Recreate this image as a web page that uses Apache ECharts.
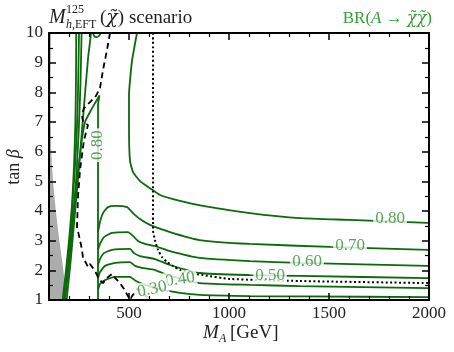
<!DOCTYPE html>
<html>
<head>
<meta charset="utf-8">
<script src="https://cdn.jsdelivr.net/npm/echarts@6/dist/echarts.min.js"></script>
<style>
  html, body { margin: 0; padding: 0; background: #fff; }
  #chart { width: 454px; height: 352px; }
</style>
</head>
<body>
<div id="chart"></div>
<script>
// axis ticks
const xMajor = [500, 1000, 1500, 2000]
const xMinor = [200, 300, 400, 600, 700, 800, 900, 1100, 1200, 1300, 1400, 1600, 1700, 1800, 1900]

// BR(A -> chi chi) contours, [M_A, tan beta]
const br80 = [[540, 10], [515, 9.06], [500, 7.91], [500, 6.8], [505, 5.69], [520, 5.31], [555, 5.01], [605, 4.77],
  [655, 4.54], [755, 4.34], [870, 4.17], [1105, 3.93], [1355, 3.76], [1605, 3.7], [1995, 3.6]]
const br70 = [[345, 3.29], [355, 3.63], [370, 3.93], [395, 4.13], [430, 4.17], [490, 4.13], [520, 3.93], [555, 3.73],
  [605, 3.53], [705, 3.29], [855, 3.02], [1105, 2.89], [1505, 2.79], [1995, 2.69]]
const br60 = [[345, 2.69], [355, 2.89], [375, 3.12], [415, 3.26], [495, 3.29], [520, 3.16], [545, 2.99], [580, 2.89],
  [630, 2.82], [705, 2.65], [855, 2.42], [1105, 2.31], [1355, 2.25], [1995, 2.15]]
const br50 = [[345, 2.18], [355, 2.38], [375, 2.58], [415, 2.69], [505, 2.72], [525, 2.58], [555, 2.48], [630, 2.38],
  [705, 2.18], [855, 1.91], [1105, 1.84], [1355, 1.81], [1995, 1.74]]
const br40 = [[345, 1.74], [355, 1.94], [380, 2.15], [430, 2.25], [505, 2.28], [530, 2.15], [565, 2.08], [630, 2.01],
  [705, 1.81], [855, 1.57], [1105, 1.51], [1355, 1.47], [1995, 1.4]]
const br30 = [[345, 1.34], [355, 1.54], [380, 1.67], [430, 1.78], [505, 1.78], [535, 1.64], [580, 1.51], [655, 1.37],
  [755, 1.24], [855, 1.17], [1105, 1.13], [1355, 1.12], [1995, 1.1]]
const br80Threshold = [[345, 1], [345, 7.55], [352, 7.9], [340, 7.75], [310, 7.4], [280, 7.0], [262, 6.3], [250, 5.6],
  [238, 5.0], [225, 4.2], [210, 3.3], [195, 2.3], [182, 1.4], [178, 1]]
const steepA = [[168, 1], [185, 2], [200, 3], [215, 4.2], [225, 5.5], [232, 7], [235, 8.5], [236, 10]]
const steepB = [[172, 1], [192, 2.2], [210, 3.5], [225, 5], [238, 6.5], [245, 8], [250, 10]]
const steepC = [[180, 1], [200, 2.2], [220, 3.6], [235, 5], [248, 6.6], [257, 8.2], [263, 10]]
const steepD = [[188, 1], [208, 2.3], [228, 3.8], [248, 5.3], [266, 6.8], [282, 8.1], [296, 9.2], [305, 9.7], [310, 10]]
const topArc = [[318, 10.05], [326, 9.9], [338, 9.86], [352, 9.92], [365, 10.05]]

// contour labels: [M_A, tan beta, text, rotation]
const contourLabels = [
  [1805, 3.76, '0.80', 0], [1605, 2.85, '0.70', 0], [1390, 2.28, '0.60', 0],
  [1205, 1.84, '0.50', 0], [755, 1.69, '0.40', 8], [615, 1.36, '0.30', 12], [345, 6.22, '0.80', 90]
]

// black dashed and dotted limits
const dashedLimit = [[405, 10], [390, 9.43], [370, 8.75], [355, 8.15], [335, 7.88], [305, 7.67], [275, 7.47], [265, 7.24],
  [270, 7.0], [295, 6.9], [275, 6.39], [255, 5.38], [245, 4.47], [240, 3.46], [255, 3.02], [265, 2.69], [270, 2.42],
  [285, 2.25], [295, 2.11], [305, 2.21], [320, 2.08], [335, 1.91], [350, 1.71], [370, 1.57], [390, 1.74], [415, 1.88],
  [435, 1.71], [455, 1.57], [475, 1.37], [495, 1.13], [505, 1.0], [515, 1.13], [530, 1.27], [545, 1.4], [570, 1.24],
  [595, 1.07], [615, 1.0]]
const dottedLimit = [[620, 10], [620, 4.37], [620, 3.36], [630, 3.02], [645, 2.69], [665, 2.45], [690, 2.28], [720, 2.15],
  [755, 2.01], [805, 1.91], [870, 1.84], [1005, 1.71], [1355, 1.64], [1995, 1.57]]

// grey excluded region along the left edge
const excludedEdge = [[100, 1], [160, 1], [180, 1.3], [177, 1.7], [170, 2.1], [152, 3], [134, 4], [120, 5], [111, 6],
  [109, 7], [108, 8.5], [110, 10], [100, 10]]

const green = '#0b6a0b'
const labelGreen = '#2f8f2f'
const serif = 'Liberation Serif'

const chart = echarts.init(document.getElementById('chart'))

const greenLine = (data) => ({
  type: 'line', data, showSymbol: false, symbol: 'none', smooth: 0.15,
  lineStyle: { color: green, width: 1.8 }, z: 3, animation: false
})

const xAxisBase = {
  type: 'value', min: 100, max: 2000, z: 10, splitLine: { show: false },
  axisLine: { show: true, onZero: false, lineStyle: { color: '#000', width: 2 } }
}
const yAxisBase = {
  type: 'value', min: 1, max: 10, interval: 1, z: 10, splitLine: { show: false },
  axisLine: { show: true, onZero: false, lineStyle: { color: '#000', width: 2 } },
  axisTick: { inside: true, length: 7, lineStyle: { color: '#000', width: 1.5 } },
  minorTick: { show: true, splitNumber: 2, length: 4, lineStyle: { color: '#000', width: 1.2 } }
}

const option = {
  animation: false,
  grid: { left: 49, right: 25, top: 33, bottom: 52 },
  xAxis: [
    Object.assign({}, xAxisBase, {
      position: 'bottom',
      axisTick: { inside: true, length: 7, customValues: xMajor, lineStyle: { color: '#000', width: 1.5 } },
      axisLabel: { customValues: xMajor, color: '#222', fontFamily: serif, fontSize: 17, margin: 5,
        formatter: (v) => String(v) }
    }),
    Object.assign({}, xAxisBase, {
      position: 'bottom', axisLine: { show: false },
      axisTick: { inside: true, length: 4, customValues: xMinor, lineStyle: { color: '#000', width: 1.2 } },
      axisLabel: { show: false }
    }),
    Object.assign({}, xAxisBase, {
      position: 'top',
      axisTick: { inside: true, length: 7, customValues: xMajor, lineStyle: { color: '#000', width: 1.5 } },
      axisLabel: { show: false }
    }),
    Object.assign({}, xAxisBase, {
      position: 'top', axisLine: { show: false },
      axisTick: { inside: true, length: 4, customValues: xMinor, lineStyle: { color: '#000', width: 1.2 } },
      axisLabel: { show: false }
    })
  ],
  yAxis: [
    Object.assign({}, yAxisBase, {
      position: 'left',
      axisLabel: { color: '#222', fontFamily: serif, fontSize: 17, margin: 6 }
    }),
    Object.assign({}, yAxisBase, { position: 'right', axisLabel: { show: false } })
  ],
  series: [
    {
      type: 'custom', data: excludedEdge, z: 1, clip: true,
      renderItem: (params, api) => {
        if (params.dataIndex !== 0) return null
        return {
          type: 'polygon',
          shape: { points: excludedEdge.map((p) => api.coord(p)) },
          style: { fill: '#acacac' }
        }
      }
    },
    greenLine(br80), greenLine(br70), greenLine(br60), greenLine(br50), greenLine(br40), greenLine(br30),
    greenLine(br80Threshold), greenLine(steepA), greenLine(steepB), greenLine(steepC), greenLine(steepD),
    greenLine(topArc),
    {
      type: 'line', data: dashedLimit, showSymbol: false, symbol: 'none', z: 4,
      lineStyle: { color: '#000', width: 1.8, type: [6, 4] }
    },
    {
      type: 'line', data: dottedLimit, showSymbol: false, symbol: 'none', z: 4, smooth: 0.2,
      lineStyle: { color: '#000', width: 2, type: [2, 2.5] }
    },
    {
      type: 'scatter', symbolSize: 0, z: 6, silent: true,
      data: contourLabels.map((l) => ({
        value: [l[0], l[1]],
        label: { formatter: l[2], rotate: l[3] }
      })),
      label: {
        show: true, position: 'inside', color: labelGreen, fontFamily: serif, fontSize: 17,
        backgroundColor: '#fff', padding: [0, 2]
      }
    }
  ],
  graphic: [
    { type: 'text', style: { text: 'M', x: 49, y: 18, font: 'italic 20px "Liberation Serif"', fill: '#222', verticalAlign: 'middle', textVerticalAlign: 'middle' } },
    { type: 'text', style: { text: '125', x: 66, y: 10, font: '12px "Liberation Serif"', fill: '#222', verticalAlign: 'middle', textVerticalAlign: 'middle' } },
    { type: 'text', style: { text: '{i|h}{r|,EFT}', x: 66, y: 25, verticalAlign: 'middle', textVerticalAlign: 'middle',
      rich: { i: { font: 'italic 12px "Liberation Serif"', fill: '#222' }, r: { font: '12px "Liberation Serif"', fill: '#222' } } } },
    { type: 'text', style: { text: '{r|(}{i|χ̃}{r|) scenario}', x: 100, y: 18, verticalAlign: 'middle', textVerticalAlign: 'middle',
      rich: { i: { font: 'italic 19px "DejaVu Serif"', fill: '#222' }, r: { font: '19px "Liberation Serif"', fill: '#222' } } } },
    { type: 'text', style: { text: '{r|BR(}{i|A}{r| → }{c|χ̃χ̃}{r|)}', x: 432, y: 19, align: 'right', textAlign: 'right',
      verticalAlign: 'middle', textVerticalAlign: 'middle',
      rich: { i: { font: 'italic 17px "Liberation Serif"', fill: '#33a033' }, c: { font: 'italic 16px "DejaVu Serif"', fill: '#33a033' },
        r: { font: '17px "Liberation Serif"', fill: '#33a033' } } } },
    { type: 'text', rotation: Math.PI / 2, x: 14, y: 167, style: { text: '{r|tan }{i|β}', x: 0, y: 0, align: 'center', textAlign: 'center',
      verticalAlign: 'middle', textVerticalAlign: 'middle',
      rich: { i: { font: 'italic 18px "Liberation Serif"', fill: '#222' }, r: { font: '18px "Liberation Serif"', fill: '#222' } } } },
    { type: 'text', style: { text: 'M', x: 203, y: 333, font: 'italic 19px "Liberation Serif"', fill: '#222', verticalAlign: 'middle', textVerticalAlign: 'middle' } },
    { type: 'text', style: { text: 'A', x: 219, y: 339, font: 'italic 12px "Liberation Serif"', fill: '#222', verticalAlign: 'middle', textVerticalAlign: 'middle' } },
    { type: 'text', style: { text: '[GeV]', x: 230, y: 333, font: '19px "Liberation Serif"', fill: '#222', verticalAlign: 'middle', textVerticalAlign: 'middle' } }
  ]
}

chart.setOption(option)
</script>
</body>
</html>
